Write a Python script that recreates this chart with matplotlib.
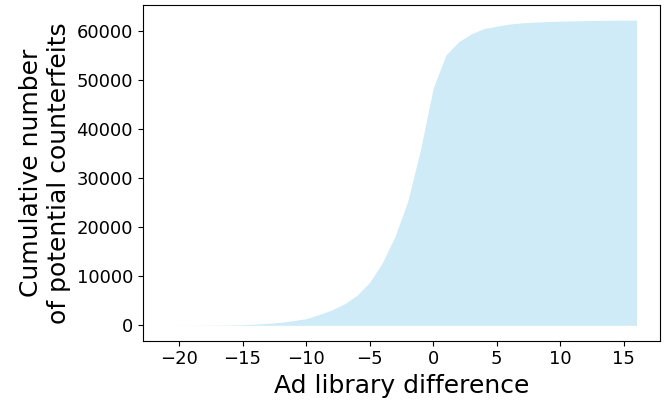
import numpy as np
import matplotlib.pyplot as plt

# difference in ad library size and cumulative count of potential counterfeits
diff = np.arange(-21, 17)
cumulative = [3, 8, 15, 30, 50, 90, 150, 250, 400, 610, 950, 1360, 2170, 3110,
              4350, 6100, 8750, 12740, 18150, 25270, 35770, 48310, 55080, 57790,
              59400, 60500, 60950, 61400, 61650, 61800, 61900, 62000, 62050,
              62100, 62150, 62180, 62200, 62200]

fig, ax = plt.subplots(figsize=(6.64, 4.05), dpi=100)
ax.fill_between(diff, cumulative, color='skyblue', alpha=0.4, linewidth=0)
ax.set_xlabel("Ad library difference", fontsize=18)
ax.set_ylabel("Cumulative number\nof potential counterfeits", fontsize=18)
ax.tick_params(labelsize=13)
fig.subplots_adjust(left=0.215, right=0.994, bottom=0.159, top=0.988)
plt.savefig("out.png")
